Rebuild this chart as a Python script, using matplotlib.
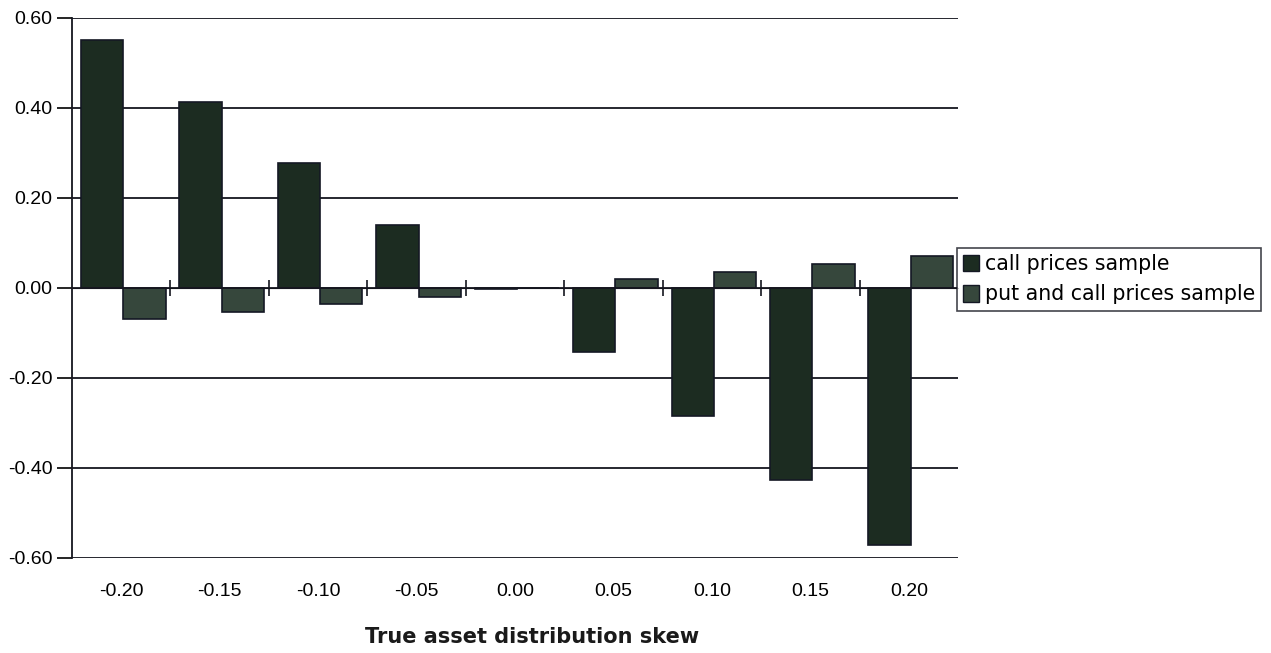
import numpy as np
import matplotlib
matplotlib.use("Agg")
import matplotlib.pyplot as plt
from matplotlib.patches import Patch

categories = ["-0.20", "-0.15", "-0.10", "-0.05", "0.00", "0.05", "0.10", "0.15", "0.20"]
call_prices = [0.550, 0.414, 0.278, 0.140, -0.003, -0.143, -0.284, -0.427, -0.571]
put_call_prices = [-0.068, -0.053, -0.036, -0.019, 0.0, 0.019, 0.036, 0.053, 0.071]
yticks = [0.60, 0.40, 0.20, 0.00, -0.20, -0.40, -0.60]
series_names = ["call prices sample", "put and call prices sample"]
xlabel = "True asset distribution skew"

fig = plt.figure(figsize=(12.71, 6.53), dpi=100)
ax = fig.add_axes([72/1271, 1-558/653, (958-72)/1271, (558-18)/653])

x = np.arange(len(categories))
w = 0.43
off = 0.02
call_color = "#1c2c21"
put_color = "#36473c"
edge = "#141824"
ax.bar(x - w/2 + off, call_prices, w, color=call_color, edgecolor=edge, linewidth=1.2, zorder=3)
ax.bar(x + w/2 + off, put_call_prices, w, color=put_color, edgecolor=edge, linewidth=1.2, zorder=3)

ax.set_xlim(-0.5, len(categories) - 0.5)
ax.set_ylim(-0.6, 0.6)
ax.set_yticks(yticks)
ax.set_yticklabels([f"{v:.2f}" for v in yticks], fontsize=14, family="Liberation Sans")
ax.set_xticks(x)
ax.set_xticklabels(categories, fontsize=14, family="Liberation Sans")
ax.tick_params(axis="x", length=0, pad=18)
ax.tick_params(axis="y", length=11, width=1.2, direction="out", pad=3)

for v in yticks:
    if v != 0:
        ax.axhline(v, color="#15161f", linewidth=1.3, zorder=1)
ax.axhline(0, color="#15161f", linewidth=1.3, zorder=4)

for s in ["top", "right", "bottom"]:
    ax.spines[s].set_visible(False)
ax.spines["left"].set_linewidth(1.3)
ax.spines["left"].set_color("#15161f")

# category-boundary tick marks crossing the zero line
sec = ax.secondary_xaxis(0.5)
sec.set_xticks(np.arange(0.5, len(categories) - 1, 1.0))
sec.set_xticklabels([])
sec.tick_params(axis="x", direction="inout", length=12, width=1.2, colors="#15161f")
sec.spines["bottom"].set_visible(False)

fig.text(532/1271, 1-637/653, xlabel, ha="center", va="center",
         fontsize=15, fontweight="bold", family="DejaVu Sans", color="#1a1a1a")

handles = [Patch(facecolor=call_color, edgecolor=edge), Patch(facecolor=put_color, edgecolor=edge)]
leg = fig.legend(handles, series_names, loc="upper left",
                 bbox_to_anchor=(957/1271, 1-248/653), frameon=True, fancybox=False,
                 fontsize=14.8, handlelength=0.75, handleheight=0.85, handletextpad=0.3,
                 borderpad=0.3, labelspacing=0.5, borderaxespad=0)
leg.get_frame().set_edgecolor("#15161f")
leg.get_frame().set_linewidth(1.2)

fig.savefig("out.png", dpi=100)
